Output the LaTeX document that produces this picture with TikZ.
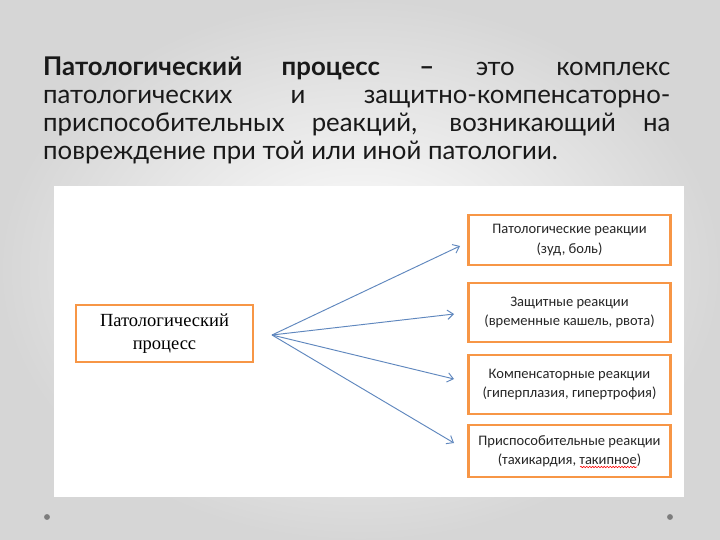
\documentclass[tikz,border=0pt]{standalone}
\usepackage{fontspec}
\setmainfont{Liberation Serif}
\newfontfamily\titlefont{Lato}
\newfontfamily\boxfont{Carlito}
\usetikzlibrary{arrows.meta,decorations.pathmorphing}
\definecolor{slideorange}{RGB}{247,150,70}
\definecolor{arrowblue}{RGB}{95,135,190}
\definecolor{dotgray}{RGB}{125,125,125}
\tikzset{%
  main box/.style={
    draw=slideorange,
    line width=2.4pt,
    fill=white,
    minimum width=5.31cm,
    minimum height=1.71cm,
    align=center,
    font=\fontsize{15.8}{19.8}\selectfont
  },
  reaction box/.style={
    draw=slideorange,
    line width=2.4pt,
    fill=white,
    minimum width=6.06cm,
    align=center,
    text=black!85,
    font=\boxfont\fontsize{12.4}{16.5}\selectfont
  },
  fan arrow/.style={
    ->,
    draw=arrowblue,
    line width=0.8pt
  },
}

\begin{document}
\begin{tikzpicture}[> = {Straight Barb[length=5pt,width=8pt]}, x=0.03cm, y=-0.03cm]
\shade[inner color=white, outer color=gray!32] (0,0) rectangle (720,540);
\useasboundingbox (0,0) rectangle (720,540);
% title
\node[anchor=north west, inner sep=0pt, text width=18.81cm, align=justify,
      text=black!90, font=\titlefont\fontsize{22}{23.9}\selectfont] (title) at (43,57)
  {\textbf{Патологический процесс –} это комплекс\linebreak
   патологических и защитно-компенсаторно-\linebreak
   приспособительных реакций, возникающий на\linebreak
   повреждение при той или иной патологии.};
% picture panel
\fill[white] (54,186) rectangle (684,497);
\node[main box] (proc) at (164.5,333.5) {Патологический\\процесс};
\node[reaction box, minimum height=1.5cm] (r1) at (569.5,240) {Патологические реакции\\(зуд, боль)};
\node[reaction box, minimum height=1.77cm] (r2) at (569.5,312.5) {Защитные реакции\\(временные кашель, рвота)};
\node[reaction box, minimum height=1.77cm] (r3) at (569.5,384.5) {Компенсаторные реакции\\(гиперплазия, гипертрофия)};
\node[reaction box, minimum height=1.56cm] (r4) at (569.5,451) {Приспособительные реакции\\(тахикардия, такипное)};
% spell-check mark
\draw[red, line width=0.5pt, decorate, decoration={snake, amplitude=0.6pt, segment length=2.5pt}]
  (580,467) -- (637,467);
% arrows
\coordinate (fan) at (272,335);
\coordinate (t1) at (460,246);
\coordinate (t2) at (454,314);
\coordinate (t3) at (454,379);
\coordinate (t4) at (454,443);
\foreach \t in {t1,t2,t3,t4}
  \draw[fan arrow] (fan) -- (\t);
% slide dots
\fill[dotgray] (47,517) circle (2.5pt);
\fill[dotgray] (670,517) circle (2.5pt);
\end{tikzpicture}
\end{document}
